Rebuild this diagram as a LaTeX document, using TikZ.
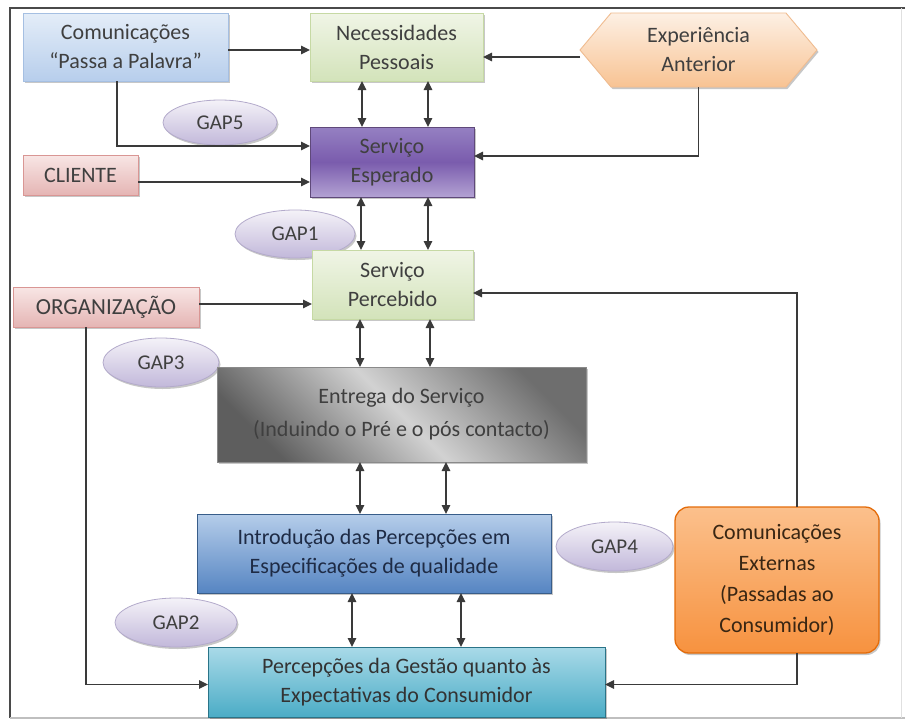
\documentclass[tikz,border=0pt]{standalone}
\usepackage{fontspec}
\setmainfont{Carlito}
\usetikzlibrary{arrows.meta,shapes.symbols,shapes.geometric,shadows,calc}
\definecolor{txt}{HTML}{3F3F3F}
\definecolor{lnc}{HTML}{3A3A3A}
\definecolor{gapt}{HTML}{F4F2F8}\definecolor{gapb}{HTML}{C2B8DA}\definecolor{gapd}{HTML}{B3AACB}
\definecolor{papt}{HTML}{E4EDF8}\definecolor{papb}{HTML}{B7CEEC}\definecolor{papd}{HTML}{A5BFE2}
\definecolor{grt}{HTML}{F0F5E6}\definecolor{grb}{HTML}{D3E3BA}\definecolor{grd}{HTML}{C6D9A4}
\definecolor{pkt}{HTML}{F8E6E5}\definecolor{pkb}{HTML}{E5B5B4}\definecolor{pkd}{HTML}{D99694}
\definecolor{hxt}{HTML}{FDF0E4}\definecolor{hxb}{HTML}{F8C393}\definecolor{hxd}{HTML}{F0BC90}
\definecolor{put}{HTML}{9580C2}\definecolor{pum}{HTML}{7A5CAD}\definecolor{pub}{HTML}{B3A2D3}\definecolor{pud}{HTML}{5F497A}
\definecolor{bgt}{HTML}{B5CDEA}\definecolor{bgb}{HTML}{5685C2}\definecolor{bgd}{HTML}{385D8A}
\definecolor{cyt}{HTML}{A9DAE8}\definecolor{cyb}{HTML}{4BACC6}\definecolor{cyd}{HTML}{2A7488}
\definecolor{ort}{HTML}{FBC08C}\definecolor{orb}{HTML}{F7923F}\definecolor{ord}{HTML}{E46C0A}
\definecolor{gyt}{HTML}{6E6E6E}\definecolor{gym}{HTML}{D2D2D2}\definecolor{gyb}{HTML}{5E5E5E}\definecolor{gyd}{HTML}{8A8A8A}
\definecolor{introtxt}{HTML}{1E2B45}
\definecolor{framec}{HTML}{4A4A4A}
\begin{document}
\begin{tikzpicture}[x=1pt,y=-1pt,
  every node/.style={inner sep=0pt,outer sep=0pt,text=txt,align=center},
  bigf/.style={font=\fontsize{22}{29}\selectfont},
  shad/.style={drop shadow={shadow xshift=1.5pt,shadow yshift=-2pt,fill=black,opacity=.22}},
  box/.style={bigf,shad,line width=0.9pt},
  gapst/.style={ellipse,shad,draw=gapd,line width=0.8pt,top color=gapt,bottom color=gapb,
     font=\fontsize{21}{22}\selectfont,text=black!75},
  arr/.style={draw=lnc,line width=1.4pt,-{Triangle[length=9pt,width=8.5pt]}},
  darr/.style={draw=lnc,line width=1.4pt,{Triangle[length=9pt,width=8.5pt]}-{Triangle[length=9pt,width=8.5pt]}}
]
\fill[white] (0,0) rectangle (905,720);
\useasboundingbox (0,0) rectangle (905,720);

% frame
\draw[draw=framec,line width=2pt] (10,718) -- (10,8) -- (905,8);
\draw[draw=black!25,line width=1.2pt] (10,718) -- (905,718);
\draw[draw=black!12,line width=1pt] (901,8) -- (901,718);

% nodes
\node[box,draw=papd,top color=papt,bottom color=papb,minimum width=205pt,minimum height=68pt]
  (pap) at (125.5,47) {Comunicações\\``Passa a Palavra''};
\node[box,draw=grd,top color=grt,bottom color=grb,minimum width=173pt,minimum height=68pt]
  (nec) at (396.5,47) {Necessidades\\Pessoais};
\node[box,signal,signal to=west and east,signal pointer angle=100,draw=hxd,top color=hxt,bottom color=hxb,
  minimum width=237pt,minimum height=74pt] (exp) at (698.5,50) {Experiência\\Anterior};
\node[box,draw=pud,top color=put,bottom color=pub,middle color=pum,minimum width=164pt,minimum height=70pt,text=black!75]
  (esp) at (392,162) {Serviço\\Esperado};
\node[box,draw=pkd,top color=pkt,bottom color=pkb,minimum width=115pt,minimum height=40pt,font=\fontsize{22}{24}\selectfont]
  (cli) at (80.5,175) {CLIENTE};
\node[gapst,minimum width=114pt,minimum height=45pt] (gap5) at (220,122.5) {GAP5};
\node[gapst,minimum width=120pt,minimum height=48pt] (gap1) at (295,234) {GAP1};
\node[box,draw=grd,top color=grt,bottom color=grb,minimum width=161pt,minimum height=69pt]
  (per) at (392.5,284.5) {Serviço\\Percebido};
\node[box,draw=pkd,top color=pkt,bottom color=pkb,minimum width=186pt,minimum height=40pt,font=\fontsize{23}{24}\selectfont]
  (org) at (106,307) {ORGANIZAÇÃO};
\node[gapst,minimum width=116pt,minimum height=49pt] (gap3) at (161,362.5) {GAP3};
\node[box,draw=gyd,top color=gyt,bottom color=gyb,middle color=gym,shading angle=-45,minimum width=369pt,minimum height=95pt,
  font=\fontsize{22}{33}\selectfont]
  (ent) at (401.5,414.5) {Entrega do Serviço\\(Induindo o Pré e o pós contacto)};
\node[box,draw=bgd,top color=bgt,bottom color=bgb,minimum width=354pt,minimum height=79pt,text=introtxt]
  (intro) at (374,553.5) {Introdução das Percepções em\\Especificações de qualidade};
\node[gapst,minimum width=117pt,minimum height=49pt] (gap4) at (614.5,546.5) {GAP4};
\node[box,draw=ord,line width=1.3pt,rounded corners=14pt,top color=ort,bottom color=orb,minimum width=204pt,
  minimum height=146pt,font=\fontsize{22}{31}\selectfont,text=black!70!brown]
  (ce) at (777,580) {Comunicações\\Externas\\(Passadas ao\\Consumidor)};
\node[gapst,minimum width=122pt,minimum height=49pt] (gap2) at (176,622.5) {GAP2};
\node[box,draw=cyd,top color=cyt,bottom color=cyb,minimum width=397pt,minimum height=70pt,text=black!80]
  (perc) at (406.5,682) {Percepções da Gestão quanto às\\Expectativas do Consumidor};

% x positions of vertical double arrows
\coordinate (xa) at (362,0); \coordinate (xb) at (428,0);
\coordinate (xc) at (361,0); \coordinate (xd) at (428,0);
\coordinate (xe) at (360,0); \coordinate (xf) at (430,0);
\coordinate (xg) at (360,0); \coordinate (xh) at (446,0);
\coordinate (xi) at (352,0); \coordinate (xj) at (461,0);

% connectors
\draw[arr] ([yshift=-3pt]pap.east) -- ([yshift=-3pt]pap.east -| nec.west);
\draw[arr] ([yshift=-7pt]exp.west) -- ([yshift=-7pt]exp.west -| nec.east);
\draw[arr] (exp.south) |- ([yshift=6pt]esp.east);
\draw[arr] ([xshift=-8.5pt]pap.south) |- ([yshift=16pt]esp.west);
\draw[arr] ([yshift=-7pt]cli.east) -- ([yshift=-7pt]cli.east -| esp.west);
\draw[darr] (nec.south -| xa) -- (esp.north -| xa);
\draw[darr] (nec.south -| xb) -- (esp.north -| xb);
\draw[darr] (esp.south -| xc) -- (per.north -| xc);
\draw[darr] (esp.south -| xd) -- (per.north -| xd);
\draw[darr] (per.south -| xe) -- (ent.north -| xe);
\draw[darr] (per.south -| xf) -- (ent.north -| xf);
\draw[darr] (ent.south -| xg) -- (intro.north -| xg);
\draw[darr] (ent.south -| xh) -- (intro.north -| xh);
\draw[darr] (intro.south -| xi) -- (perc.north -| xi);
\draw[darr] (intro.south -| xj) -- (perc.north -| xj);
\draw[arr] ([yshift=3pt]org.east) -- ([yshift=3pt]org.east -| per.west);
\draw[arr] ([xshift=20pt]ce.north) |- ([yshift=-8.5pt]per.east);
\draw[arr] ([xshift=20pt]ce.south) |- ([yshift=-2.5pt]perc.east);
\draw[arr] ([xshift=-20pt]org.south) |- ([yshift=-2.5pt]perc.west);
\end{tikzpicture}
\end{document}
